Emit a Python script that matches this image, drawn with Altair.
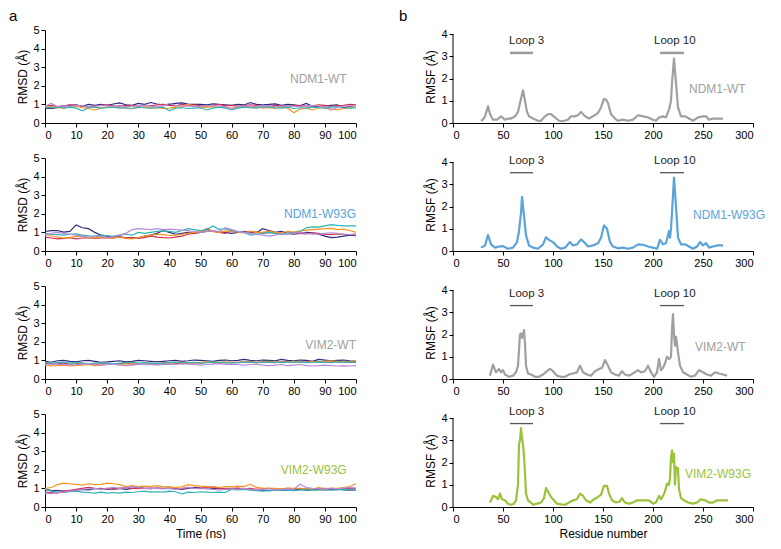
import altair as alt
import pandas as pd

FONT = "Liberation Sans"

# ---------------- RMSD (panel a) ----------------
TIME = list(range(0, 101, 2))  # ns, 51 samples
SERIES = ["run1", "run2", "run3", "run4", "run5"]
SERIES_COLORS = ["#2b2a7c", "#d42f55", "#f6941f", "#2fb2b4", "#b48bd9"]

ndm1_wt = [
    [0.80,0.78,0.82,0.92,0.95,0.98,0.90,1.00,0.95,1.00,
     0.95,1.02,1.08,0.98,0.95,1.05,1.00,1.10,1.02,0.98,
     1.00,1.05,1.08,1.02,1.00,1.00,0.98,1.03,1.00,0.98,
     0.95,1.00,0.97,1.10,1.00,0.98,1.00,1.03,0.95,1.00,
     0.98,0.92,1.05,0.90,0.88,0.92,0.95,0.98,0.82,0.90,
     0.95],
    [0.90,0.95,0.88,0.92,0.98,0.95,0.90,0.85,0.92,0.95,
     0.98,0.92,0.90,0.95,0.93,0.90,0.95,0.92,0.98,1.00,
     0.95,0.92,1.00,0.95,0.98,0.93,0.90,0.95,1.00,0.92,
     0.95,0.90,0.93,0.98,0.95,0.92,0.90,0.95,0.92,0.90,
     0.93,0.95,0.90,0.92,0.98,0.95,0.90,0.93,0.95,1.00,
     0.98],
    [0.85,0.88,0.82,0.80,0.85,0.90,0.82,0.78,0.70,0.80,
     0.85,0.88,0.82,0.80,0.78,0.82,0.85,0.80,0.82,0.78,
     0.80,0.85,0.88,1.00,0.90,0.82,0.85,0.88,0.85,0.82,
     0.80,0.85,0.88,0.82,0.85,0.80,0.82,0.78,0.85,0.80,
     0.55,0.75,0.80,0.70,0.82,0.80,0.75,0.72,0.78,0.82,
     0.85],
    [0.85,0.82,0.88,0.80,0.85,0.80,0.65,0.82,0.85,0.80,
     0.82,0.85,0.80,0.82,0.78,0.85,0.82,0.80,0.82,0.85,
     0.65,0.80,0.82,0.78,0.80,0.82,0.70,0.80,0.85,0.80,
     0.72,0.80,0.85,0.82,0.80,0.88,0.85,0.82,0.80,0.85,
     0.78,0.82,0.80,0.85,0.82,0.80,0.85,0.88,0.82,0.80,
     0.82],
    [0.90,1.05,0.88,0.92,0.90,0.95,0.92,0.88,0.90,0.95,
     0.92,0.90,0.95,0.88,0.90,0.92,0.95,0.90,0.88,0.92,
     1.05,0.95,0.90,0.92,0.88,0.90,0.92,0.95,0.90,0.88,
     0.75,0.90,0.92,0.88,0.90,0.95,0.92,0.88,0.90,0.92,
     0.90,0.88,0.92,0.95,0.90,0.88,0.70,0.85,0.90,0.92,
     0.95],
]

ndm1_w93g = [
    [1.05,1.10,1.10,1.02,1.05,1.40,1.25,1.20,1.00,0.85,
     0.80,0.75,0.78,0.70,0.72,0.70,0.80,0.85,0.95,1.10,
     1.00,0.90,0.95,1.00,0.98,1.00,1.05,1.08,1.02,1.00,
     0.95,1.00,1.05,1.00,0.98,1.20,1.10,1.00,1.05,0.95,
     0.90,0.95,1.00,0.98,0.90,0.80,0.72,0.75,0.80,0.85,
     0.82],
    [0.75,0.70,0.65,0.68,0.72,0.65,0.70,0.72,0.68,0.70,
     0.72,0.70,0.75,0.72,0.70,0.68,0.72,0.80,0.75,0.72,
     0.70,0.75,0.80,0.90,0.95,1.00,1.20,1.05,1.00,0.95,
     1.10,1.05,1.00,1.05,1.02,0.95,0.98,1.00,0.92,0.95,
     1.00,0.95,0.92,0.98,0.95,0.90,0.88,0.92,0.90,0.88,
     0.85],
    [0.90,0.82,0.75,0.70,0.72,0.80,0.78,0.72,0.70,0.75,
     0.72,0.70,0.75,0.68,0.65,0.72,0.80,0.85,0.90,0.88,
     0.82,0.85,0.90,0.95,1.00,1.05,1.10,1.05,1.00,1.08,
     1.05,1.02,0.98,1.05,1.00,1.02,1.05,1.00,0.98,1.05,
     1.02,1.08,1.12,1.15,1.18,1.20,1.22,1.15,1.18,1.10,
     1.00],
    [0.95,0.90,0.88,0.85,0.90,0.92,0.85,0.82,0.80,0.85,
     0.82,0.80,0.85,0.90,0.85,1.00,0.95,1.00,1.05,1.08,
     1.05,1.00,1.10,1.20,1.15,1.10,1.15,1.35,1.15,1.20,
     1.10,1.05,1.00,0.85,0.90,0.95,1.00,0.95,0.90,0.95,
     0.98,1.05,1.25,1.30,1.28,1.35,1.42,1.38,1.35,1.35,
     1.35],
    [0.85,0.95,1.00,0.95,0.90,0.85,0.80,0.75,0.78,0.80,
     0.72,0.78,0.85,0.95,1.15,1.20,1.18,1.15,1.20,1.15,
     1.18,1.15,1.12,1.10,1.05,1.00,1.05,1.10,1.05,1.25,
     1.15,1.05,1.00,0.95,0.90,0.85,0.80,0.85,0.95,0.90,
     0.95,1.00,0.95,0.90,0.92,0.95,0.98,0.95,0.90,0.88,
     0.92],
]

vim2_wt = [
    [0.95,0.90,0.98,1.00,0.95,0.92,0.98,1.00,0.95,0.90,
     0.92,0.95,0.98,0.92,0.95,1.00,0.98,0.95,0.92,0.95,
     0.98,1.00,0.95,0.98,1.02,1.00,0.98,0.95,1.00,1.02,
     0.98,1.00,1.05,1.00,0.98,1.02,1.00,0.98,1.05,1.00,
     0.98,1.02,1.00,0.95,1.05,1.02,0.98,1.00,1.02,0.98,
     0.95],
    [0.85,0.80,0.82,0.85,0.80,0.82,0.85,0.78,0.80,0.82,
     0.80,0.78,0.82,0.85,0.80,0.82,0.78,0.80,0.82,0.85,
     0.88,0.85,0.82,0.85,0.88,0.85,0.90,0.88,0.85,0.88,
     0.90,0.88,0.92,0.90,0.88,0.92,0.90,0.88,0.92,0.95,
     0.92,0.90,0.92,0.95,0.92,0.90,0.92,0.95,0.90,0.92,
     0.90],
    [0.75,0.70,0.72,0.75,0.70,0.72,0.75,0.78,0.72,0.75,
     0.78,0.80,0.78,0.82,0.80,0.78,0.82,0.85,0.80,0.82,
     0.85,0.88,0.90,0.85,0.88,0.90,0.92,0.88,0.90,0.92,
     0.88,0.90,0.92,0.95,0.90,0.92,0.95,0.92,0.90,0.92,
     0.95,0.92,0.90,0.95,0.92,0.95,0.98,0.95,0.92,0.95,
     0.98],
    [0.90,0.85,0.88,0.90,0.85,0.88,0.85,0.82,0.85,0.88,
     0.85,0.82,0.85,0.88,0.90,0.85,0.88,0.85,0.82,0.85,
     0.88,0.90,0.85,0.88,0.90,0.85,0.88,0.92,0.90,0.88,
     0.85,0.88,0.90,0.92,0.88,0.90,0.92,0.90,0.88,0.92,
     0.90,0.92,0.88,0.90,0.92,0.90,0.88,0.92,0.90,0.92,
     0.90],
    [0.80,0.82,0.78,0.80,0.75,0.78,0.80,0.82,0.78,0.75,
     0.78,0.80,0.75,0.72,0.75,0.78,0.80,0.78,0.75,0.78,
     0.80,0.78,0.82,0.80,0.78,0.75,0.78,0.80,0.82,0.78,
     0.80,0.78,0.75,0.78,0.80,0.75,0.72,0.75,0.78,0.72,
     0.75,0.78,0.72,0.70,0.72,0.75,0.72,0.70,0.72,0.70,
     0.72],
]

vim2_w93g = [
    [0.95,0.90,0.88,0.85,0.88,0.90,0.95,0.92,0.98,1.00,
     0.95,0.98,1.00,0.95,1.00,1.05,1.00,0.98,1.02,1.00,
     1.00,0.98,0.95,1.00,1.05,1.02,0.98,1.00,1.02,0.98,
     0.95,1.00,0.98,0.95,0.92,0.90,0.88,0.90,0.92,0.90,
     0.92,0.95,0.90,0.92,0.95,0.92,0.95,0.98,0.92,0.90,
     0.92],
    [0.80,0.78,0.75,0.85,0.90,0.95,1.00,1.05,1.00,0.98,
     1.00,0.95,1.00,1.05,1.00,0.98,1.00,1.02,1.00,0.98,
     1.02,1.00,0.98,1.05,1.02,1.00,1.05,1.08,1.00,0.98,
     1.00,1.02,0.98,1.00,0.95,0.98,1.00,0.98,0.95,1.00,
     0.98,1.00,0.98,0.95,0.98,1.00,0.98,0.95,1.00,1.02,
     1.00],
    [1.00,1.05,1.20,1.28,1.25,1.22,1.18,1.25,1.20,1.22,
     1.28,1.25,1.20,1.10,1.15,1.10,1.12,1.10,1.15,1.08,
     1.10,1.05,1.08,1.20,1.15,1.12,1.10,1.08,1.05,1.10,
     1.08,1.12,1.10,1.22,1.05,1.02,1.00,1.00,0.98,1.02,
     1.00,0.98,1.00,0.95,1.05,0.98,1.02,1.00,1.05,1.10,
     1.25],
    [0.95,0.85,0.80,0.78,0.82,0.85,0.80,0.78,0.75,0.80,
     0.75,0.78,0.75,0.80,0.78,0.82,0.85,0.80,0.82,0.80,
     0.85,0.82,0.70,0.80,0.78,0.82,0.80,0.78,0.80,0.78,
     0.95,0.92,0.95,0.90,0.88,0.85,0.88,0.90,0.92,0.90,
     0.88,0.92,0.95,0.90,0.92,0.95,0.90,0.92,0.95,0.92,
     0.95],
    [0.75,0.72,0.78,0.80,0.85,0.90,0.95,0.98,1.00,0.95,
     1.00,1.05,1.00,1.05,1.10,1.05,1.00,1.02,1.00,0.98,
     1.00,0.95,1.00,1.05,1.00,0.98,1.00,0.95,0.92,0.95,
     0.98,0.95,1.00,0.95,0.92,0.95,0.98,0.92,0.95,0.98,
     0.95,1.22,1.05,1.00,0.98,0.95,1.00,0.98,1.02,1.05,
     1.00],
]

# ---------------- RMSF (panel b) ----------------
ndm1_wt_res = [28,30,32,35,37,40,44,48,52,55,58,62,65,67,70,72,74,76,80,85,
               88,92,95,98,102,106,110,115,118,122,125,128,132,136,140,145,148,151,153,155,
               158,162,165,170,175,180,185,190,195,200,203,206,210,213,216,218,219,221,223,225,
               228,232,236,240,245,250,253,256,260,265,270]
ndm1_wt_rmsf = [0.1,0.15,0.3,0.75,0.4,0.15,0.15,0.3,0.15,0.2,0.2,0.3,0.5,0.9,1.47,1.0,0.5,0.3,0.2,0.1,
                0.1,0.3,0.4,0.4,0.25,0.1,0.08,0.15,0.3,0.3,0.35,0.5,0.3,0.2,0.3,0.45,0.7,1.08,1.05,0.9,
                0.4,0.2,0.1,0.15,0.1,0.15,0.35,0.3,0.25,0.15,0.1,0.25,0.3,0.25,0.6,1.0,1.8,2.9,1.8,0.7,
                0.3,0.3,0.2,0.1,0.25,0.3,0.3,0.15,0.2,0.2,0.2]

ndm1_w93g_res = [28,32,35,38,42,46,50,55,60,64,66,68,69,71,73,76,80,85,90,93,
                 96,100,104,108,112,117,120,124,128,131,135,140,145,148,151,154,157,160,165,170,
                 175,180,185,190,195,200,204,207,210,213,216,217,218,220,221,223,225,228,232,236,
                 240,244,247,250,253,256,260,265,270]
ndm1_w93g_rmsf = [0.15,0.25,0.72,0.3,0.15,0.2,0.22,0.1,0.15,0.4,0.9,1.7,2.43,1.6,0.7,0.25,0.15,0.1,0.3,0.62,
                  0.5,0.4,0.2,0.1,0.15,0.4,0.25,0.3,0.52,0.4,0.2,0.25,0.35,0.6,1.15,1.0,0.4,0.2,0.12,0.15,
                  0.1,0.15,0.3,0.28,0.2,0.15,0.1,0.5,0.3,0.35,0.9,0.6,1.0,2.5,3.3,2.0,0.6,0.3,0.3,0.2,
                  0.1,0.2,0.4,0.25,0.35,0.15,0.2,0.25,0.25]

vim2_wt_res = [37,40,43,46,48,50,52,56,60,63,65,66,67,68,69,70,71,72,73,75,
               78,82,86,90,94,97,100,104,108,112,116,120,124,127,130,134,138,142,146,149,
               152,155,158,162,166,169,172,176,180,185,188,192,195,198,201,204,206,208,210,212,
               214,216,218,219,220,221,222,223,224,225,227,230,234,238,242,246,250,254,258,262,
               266,270,274]
vim2_wt_rmsf = [0.15,0.65,0.3,0.45,0.3,0.4,0.2,0.1,0.15,0.3,0.6,1.3,2.0,2.05,1.85,2.0,2.2,1.6,0.6,0.25,
                0.2,0.1,0.1,0.2,0.35,0.45,0.35,0.15,0.1,0.1,0.2,0.25,0.3,0.6,0.3,0.2,0.15,0.35,0.45,0.5,
                0.85,0.6,0.3,0.2,0.15,0.35,0.2,0.15,0.25,0.4,0.3,0.35,0.6,0.3,0.1,0.3,0.9,0.4,0.5,0.7,
                1.0,0.9,1.0,2.2,2.92,2.0,1.5,1.9,1.6,1.2,0.6,0.3,0.2,0.1,0.15,0.4,0.3,0.2,0.15,0.3,
                0.25,0.2,0.15]

vim2_w93g_res = [37,40,43,45,47,49,52,55,58,61,63,65,66,67,68,69,70,71,72,73,
                 75,78,80,84,88,91,93,95,98,101,104,108,112,116,120,124,127,130,133,137,
                 141,145,148,151,154,156,159,163,167,169,172,176,180,184,188,192,196,200,203,206,
                 208,210,212,214,216,217,218,219,220,221,222,223,224,225,226,228,231,235,240,244,
                 248,252,256,260,264,268,272,275]
vim2_w93g_rmsf = [0.2,0.5,0.45,0.35,0.6,0.35,0.3,0.15,0.1,0.15,0.3,1.0,2.8,3.0,3.55,3.1,2.8,2.3,1.5,0.6,
                  0.3,0.2,0.1,0.15,0.2,0.4,0.85,0.7,0.45,0.3,0.15,0.12,0.1,0.2,0.3,0.35,0.6,0.5,0.3,0.2,
                  0.35,0.45,0.55,0.95,0.95,0.6,0.3,0.2,0.25,0.4,0.2,0.15,0.2,0.3,0.3,0.3,0.3,0.15,0.2,0.5,
                  0.35,0.5,0.7,1.05,1.0,1.3,2.2,2.55,2.0,2.4,1.0,1.8,1.7,1.75,0.8,0.4,0.3,0.2,0.15,0.2,
                  0.35,0.3,0.2,0.2,0.3,0.3,0.3,0.3]

LOOP_NAMES = ["Loop 3", "Loop 10"]
LOOP_START = [57, 207]
LOOP_END = [80, 231]
LOOP_TEXT_X = [56, 201]

GRAY = "#a0a0a0"
BLUE = "#5ba3db"
GREEN = "#9bc23c"

LEFT_W, H = 311, 93
RIGHT_W = 300
RIGHT_TOP = 4.18  # y domain top so that "4" sits a few px below the row top

TIME_TICKS = list(range(0, 101, 10))
RMSD_TICKS = [0, 1, 2, 3, 4, 5]
RES_TICKS = list(range(0, 301, 50))
RMSF_TICKS = [0, 1, 2, 3, 4]


def corner(x, y, letter):
    return alt.Chart(pd.DataFrame({"x": [x], "y": [y], "txt": [letter]})).mark_text(
        align="left", baseline="top", fontSize=15, font=FONT, color="#000000"
    )


def rmsd_panel(series_vals, label, color, lx, ly, last, letter=None):
    rows = []
    for name, vals in zip(SERIES, series_vals):
        for t, v in zip(TIME, vals):
            rows.append({"x": t, "y": v, "s": name})
    df = pd.DataFrame(rows)
    xax = alt.Axis(values=TIME_TICKS, title="Time (ns)" if last else None,
                   labelOverlap=False, tickCount=11)
    xenc = alt.X("x:Q", scale=alt.Scale(domain=[0, 100], nice=False), axis=xax)
    yenc = alt.Y("y:Q", scale=alt.Scale(domain=[0, 5], nice=False),
                 axis=alt.Axis(values=RMSD_TICKS, title="RMSD (Å)", labelOverlap=False, tickCount=6))
    lines = alt.Chart(df).mark_line(strokeWidth=1.2).encode(
        x=xenc, y=yenc,
        color=alt.Color("s:N", scale=alt.Scale(domain=SERIES, range=SERIES_COLORS), legend=None),
    )
    lab = alt.Chart(pd.DataFrame({"x": [lx], "y": [ly], "txt": [label]})).mark_text(
        align="right", baseline="middle", fontSize=12, font=FONT, color=color
    ).encode(x=xenc, y=yenc, text="txt:N")
    layers = [lines, lab]
    if letter:
        layers.append(corner(-11.6, 6.13, letter).encode(x=xenc, y=yenc, text="txt:N"))
    return alt.layer(*layers).properties(width=LEFT_W, height=H)


def rmsf_panel(res, vals, color, label, lx, ly, bar_y, text_y, bar_color, bar_w, last, letter=None):
    df = pd.DataFrame({"x": res, "y": vals})
    xax = alt.Axis(values=RES_TICKS, title="Residue number" if last else None,
                   labelOverlap=False, tickCount=7)
    xenc = alt.X("x:Q", scale=alt.Scale(domain=[0, 300], nice=False), axis=xax)
    yenc = alt.Y("y:Q", scale=alt.Scale(domain=[0, RIGHT_TOP], nice=False),
                 axis=alt.Axis(values=RMSF_TICKS, title="RMSF (Å)", domain=False,
                               labelOverlap=False, tickCount=5))
    line = alt.Chart(df).mark_line(strokeWidth=2.2, color=color, strokeJoin="round").encode(x=xenc, y=yenc)
    yline = alt.Chart(pd.DataFrame({"x": [0], "y": [0], "y2": [4]})).mark_rule(
        color="#000000", strokeWidth=1).encode(x=xenc, y=yenc, y2="y2:Q")
    loops = pd.DataFrame({
        "x": LOOP_START, "x2": LOOP_END, "y": [bar_y, bar_y],
    })
    bars = alt.Chart(loops).mark_rule(color=bar_color, strokeWidth=bar_w).encode(
        x=xenc, x2="x2:Q", y=yenc)
    loops_t = pd.DataFrame({"x": LOOP_TEXT_X, "y": [text_y, text_y], "txt": LOOP_NAMES})
    ltxt = alt.Chart(loops_t).mark_text(
        align="left", baseline="middle", fontSize=11.5, font=FONT, color="#222222"
    ).encode(x=xenc, y=yenc, text="txt:N")
    lab = alt.Chart(pd.DataFrame({"x": [lx], "y": [ly], "txt": [label]})).mark_text(
        align="left", baseline="middle", fontSize=12, font=FONT, color=color
    ).encode(x=xenc, y=yenc, text="txt:N")
    layers = [line, yline, bars, ltxt, lab]
    if letter:
        layers.append(corner(-54, 5.12, letter).encode(x=xenc, y=yenc, text="txt:N"))
    return alt.layer(*layers).properties(width=RIGHT_W, height=H)


panels = [
    rmsd_panel(ndm1_wt, "NDM1-WT", GRAY, 97, 2.37, False, "a"),
    rmsf_panel(ndm1_wt_res, ndm1_wt_rmsf, GRAY, "NDM1-WT", 236, 1.51, 3.15, 3.67, "#9a9a9a", 2.5, False, "b"),
    rmsd_panel(ndm1_w93g, "NDM1-W93G", BLUE, 100, 2.0, False),
    rmsf_panel(ndm1_w93g_res, ndm1_w93g_rmsf, BLUE, "NDM1-W93G", 240, 1.6, 3.52, 4.05, "#555555", 1.3, False),
    rmsd_panel(vim2_wt, "VIM2-WT", GRAY, 100, 1.83, False),
    rmsf_panel(vim2_wt_res, vim2_wt_rmsf, GRAY, "VIM2-WT", 242, 1.44, 3.3, 3.8, "#555555", 1.3, False),
    rmsd_panel(vim2_w93g, "VIM2-W93G", GREEN, 97, 2.0, True),
    rmsf_panel(vim2_w93g_res, vim2_w93g_rmsf, GREEN, "VIM2-W93G", 232, 1.48, 3.75, 4.27, "#555555", 1.3, True),
]

chart = alt.concat(*panels, columns=2, spacing={"row": 35, "column": 97}, bounds="flush").properties(
    padding={"left": 0, "top": 0, "right": 0, "bottom": 0}
).configure_view(stroke=None).configure_axis(
    labelFont=FONT, labelFontSize=11, labelColor="#000000",
    titleFont=FONT, titleFontSize=12, titleFontWeight="normal", titleColor="#000000",
    domainColor="#000000", tickColor="#000000", tickSize=4, labelPadding=2,
    grid=False, domainWidth=1, tickWidth=1,
).configure_axisY(titlePadding=3)

chart.save("out.html", embed_options={"renderer": "svg", "actions": False})
